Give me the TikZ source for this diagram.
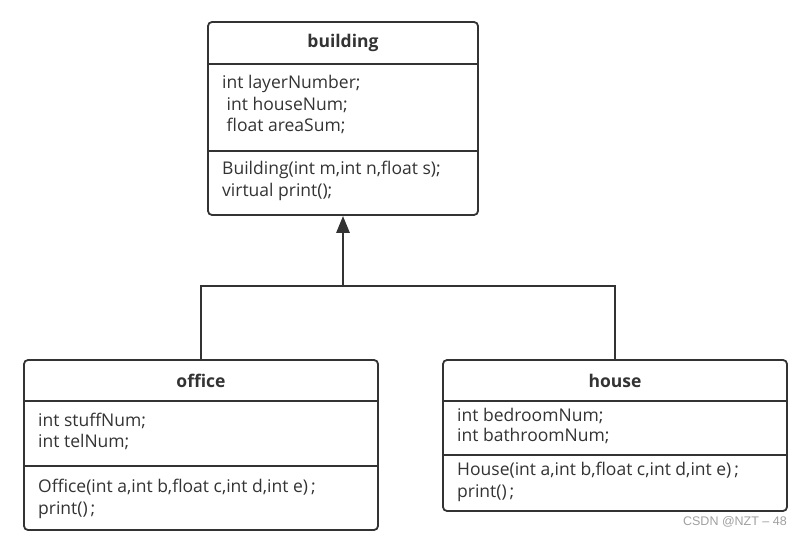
\documentclass[tikz,border=0pt]{standalone}
\usepackage{fontspec}
\setmainfont{Open Sans}
\newfontfamily\wmfont{Liberation Sans}
\usetikzlibrary{arrows.meta}
\definecolor{ink}{HTML}{333333}
\definecolor{wm}{HTML}{A0A0A0}
\begin{document}
\begin{tikzpicture}[x=1pt,y=-1pt,
  umlbox/.style={draw=ink, line width=1.8pt, rounded corners=4pt, fill=white, inner sep=0pt},
  divider/.style={draw=ink, line width=1.5pt},
  conn/.style={draw=ink, line width=1.7pt},
  inherit/.style={draw=ink, line width=2.8pt, -{Triangle[length=17pt,width=13pt]}},
  title/.style={font=\fontsize{17.5}{20}\selectfont\bfseries, text=ink, inner sep=0pt},
  member/.style={font=\fontsize{17.5}{20}\selectfont, text=ink, anchor=west, inner sep=0pt, text height=12pt, text depth=4pt}
]
\fill[white] (0,0) rectangle (801,537);
\useasboundingbox (0,0) rectangle (801,537);

% boxes
\node[umlbox, minimum width=270pt, minimum height=193pt] (building) at (343,118.5) {};
\node[umlbox, minimum width=354pt, minimum height=170pt] (office) at (201,445) {};
\node[umlbox, minimum width=344pt, minimum height=151pt] (house) at (615,435.5) {};

% dividers
\draw[divider] (building.west |- 0,64) -- (building.east |- 0,64);
\draw[divider] (building.west |- 0,151) -- (building.east |- 0,151);
\draw[divider] (office.west |- 0,401) -- (office.east |- 0,401);
\draw[divider] (office.west |- 0,466) -- (office.east |- 0,466);
\draw[divider] (house.west |- 0,401) -- (house.east |- 0,401);
\draw[divider] (house.west |- 0,455) -- (house.east |- 0,455);

% titles
\node[title] (tb) at (343,43) {building};
\node[title] (to) at (201,381) {office};
\node[title] (th) at (615,381) {house};

% building members
\node[member] (b1) at (222,85) {int layerNumber;};
\node[member] (b2) at (222,106.5) {\ int houseNum;};
\node[member] (b3) at (222,128) {\ float areaSum;};
\node[member] (b4) at (222,171) {Building(int m,int n,float s);};
\node[member] (b5) at (222,193) {virtual print();};

% office members
\node[member] (o1) at (38,422) {int stuffNum;};
\node[member] (o2) at (38,443) {int telNum;};
\node[member] (o3) at (38,488) {Office(int a,int b,float c,int d,int e)\,;};
\node[member] (o4) at (38,510) {print()\,;};

% house members
\node[member] (h1) at (457,417) {int bedroomNum;};
\node[member] (h2) at (457,438) {int bathroomNum;};
\node[member] (h3) at (457,471) {House(int a,int b,float c,int d,int e)\,;};
\node[member] (h4) at (457,493) {print()\,;};

% connectors
\coordinate (hub) at (building.south |- 0,286);
\draw[conn] (office.north) |- (hub) -| (house.north);
\draw[inherit] (hub) -- (building.south);

% watermark
\node[font=\wmfont\fontsize{12.5}{14}\selectfont, text=wm, anchor=east, inner sep=0pt] (wmark) at (787,522) {CSDN @NZT – 48};
\end{tikzpicture}
\end{document}
